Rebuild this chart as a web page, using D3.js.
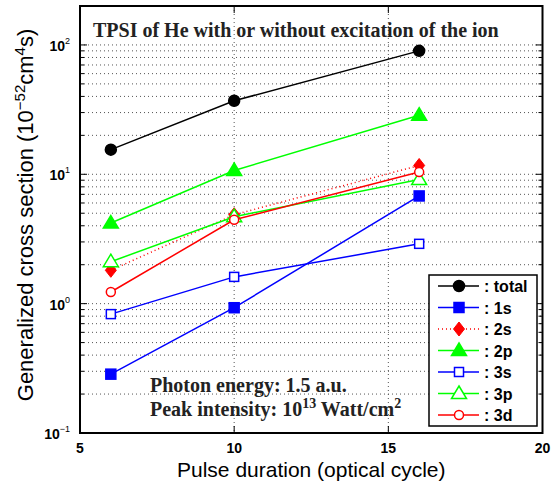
<!DOCTYPE html>
<html>
<head>
<meta charset="utf-8">
<script src="https://cdn.jsdelivr.net/npm/d3@7"></script>
<style>
  body { margin: 0; background: #fff; }
</style>
</head>
<body>
<div id="chart"></div>
<script>
// pulse duration (optical cycles)
let cycles = [6, 10, 16]

let total = [15.5, 37, 90]
let s1 = [0.285, 0.93, 6.8]
let s2 = [1.81, 4.87, 11.7]
let p2 = [4.2, 10.7, 28.6]
let s3 = [0.83, 1.61, 2.9]
let p3 = [2.11, 4.7, 9.1]
let d3s = [1.23, 4.45, 10.4]

let xTicks = [5, 10, 15, 20]
let yDecades = [-1, 0, 1, 2]

let series = [
  { name: ': total', values: total, color: '#000', marker: 'circle', fill: true, dash: null },
  { name: ': 1s', values: s1, color: '#0000ff', marker: 'square', fill: true, dash: null },
  { name: ': 2s', values: s2, color: '#ff0000', marker: 'diamond', fill: true, dash: '1,3' },
  { name: ': 2p', values: p2, color: '#00ff00', marker: 'triangle', fill: true, dash: null },
  { name: ': 3s', values: s3, color: '#0000ff', marker: 'square', fill: false, dash: null },
  { name: ': 3p', values: p3, color: '#00ff00', marker: 'triangle', fill: false, dash: null },
  { name: ': 3d', values: d3s, color: '#ff0000', marker: 'circle', fill: false, dash: null }
]

let margin = { top: 6, left: 80, right: 10.5, bottom: 52 }
let width = 553 - margin.left - margin.right
let height = 485 - margin.top - margin.bottom

let svg = d3
  .select('#chart')
  .append('svg')
  .attr('width', 553)
  .attr('height', 485)

let g = svg.append('g')
  .attr('transform', 'translate(' + margin.left + ',' + margin.top + ')')

let x = d3.scaleLinear().domain([5, 20]).range([0, width])
let y = d3.scaleLog().domain([0.1, 200]).range([height, 0])

// all minor+major y values
let yGrid = []
yDecades.forEach(function (e) {
  for (let k = 1; k <= 9; k++) {
    let v = k * Math.pow(10, e)
    if (v >= 0.1 && v <= 200) yGrid.push(v)
  }
})

// dotted grid
g.selectAll('.hgrid')
  .data(yGrid)
  .enter()
  .append('line')
  .attr('x1', 0)
  .attr('x2', width)
  .attr('y1', d => y(d))
  .attr('y2', d => y(d))
  .attr('stroke', '#555')
  .attr('stroke-width', 1)
  .attr('stroke-dasharray', '1,3')

g.selectAll('.vgrid')
  .data(xTicks.slice(1, -1))
  .enter()
  .append('line')
  .attr('x1', d => x(d))
  .attr('x2', d => x(d))
  .attr('y1', 0)
  .attr('y2', height)
  .attr('stroke', '#555')
  .attr('stroke-width', 1)
  .attr('stroke-dasharray', '1,3')

// tick marks inside, left/right and top/bottom
yGrid.forEach(function (v) {
  let major = Math.abs(Math.log10(v) - Math.round(Math.log10(v))) < 1e-9
  let len = major ? 7 : 4
  g.append('line').attr('x1', 0).attr('x2', len).attr('y1', y(v)).attr('y2', y(v)).attr('stroke', '#000')
  g.append('line').attr('x1', width - len).attr('x2', width).attr('y1', y(v)).attr('y2', y(v)).attr('stroke', '#000')
})
xTicks.slice(1, -1).forEach(function (v) {
  g.append('line').attr('x1', x(v)).attr('x2', x(v)).attr('y1', height).attr('y2', height - 7).attr('stroke', '#000')
  g.append('line').attr('x1', x(v)).attr('x2', x(v)).attr('y1', 0).attr('y2', 7).attr('stroke', '#000')
})

// tick labels
g.selectAll('.xlab')
  .data(xTicks)
  .enter()
  .append('text')
  .text(d => d)
  .attr('x', d => x(d))
  .attr('y', height + 20)
  .attr('text-anchor', 'middle')
  .attr('font-family', 'Liberation Sans, Arial, sans-serif')
  .attr('font-weight', 'bold')
  .attr('font-size', '14px')

let ylab = g.selectAll('.ylab')
  .data(yDecades)
  .enter()
  .append('text')
  .attr('x', -10)
  .attr('y', d => y(Math.pow(10, d)) + 6)
  .attr('text-anchor', 'end')
  .attr('font-family', 'Liberation Sans, Arial, sans-serif')
  .attr('font-weight', 'bold')
  .attr('font-size', '14px')
ylab.append('tspan').text('10')
ylab.append('tspan').text(d => d < 0 ? '\u22121' : d).attr('dy', -7).attr('font-size', '9px').attr('font-weight', 'normal')

// lines and markers
let line = d3.line()
  .x((d, i) => x(cycles[i]))
  .y(d => y(d))

function drawMarker(sel, s, cx, cy) {
  let fill = s.fill ? s.color : '#fff'
  if (s.marker == 'circle') {
    sel.append('circle').attr('cx', cx).attr('cy', cy).attr('r', s.fill ? 5.5 : 4.5)
      .attr('fill', fill).attr('stroke', s.color).attr('stroke-width', 1.5)
  } else if (s.marker == 'square') {
    let h = s.fill ? 5 : 4.5
    sel.append('rect').attr('x', cx - h).attr('y', cy - h).attr('width', 2 * h).attr('height', 2 * h)
      .attr('fill', fill).attr('stroke', s.color).attr('stroke-width', 1.5)
  } else if (s.marker == 'diamond') {
    sel.append('path').attr('d', 'M' + cx + ',' + (cy - 7) + 'L' + (cx + 5.5) + ',' + cy + 'L' + cx + ',' + (cy + 7) + 'L' + (cx - 5.5) + ',' + cy + 'Z')
      .attr('fill', fill).attr('stroke', s.color).attr('stroke-width', 1)
  } else {
    sel.append('path').attr('d', 'M' + cx + ',' + (cy - 7.5) + 'L' + (cx + 7.5) + ',' + (cy + 5) + 'L' + (cx - 7.5) + ',' + (cy + 5) + 'Z')
      .attr('fill', fill).attr('stroke', s.color).attr('stroke-width', 1.5)
  }
}

series.forEach(function (s) {
  g.append('path')
    .attr('d', line(s.values))
    .attr('fill', 'none')
    .attr('stroke', s.color)
    .attr('stroke-width', 1.5)
    .attr('stroke-dasharray', s.dash)
  s.values.forEach(function (v, i) {
    drawMarker(g, s, x(cycles[i]), y(v))
  })
})

// axes box
g.append('rect')
  .attr('x', 0).attr('y', 0).attr('width', width).attr('height', height)
  .attr('fill', 'none').attr('stroke', '#000').attr('stroke-width', 2)

// annotations
g.append('text')
  .text('TPSI of He with or without excitation of the ion')
  .attr('x', 13).attr('y', 31)
  .attr('font-family', 'Liberation Serif, Times New Roman, serif')
  .attr('font-weight', 'bold')
  .attr('font-size', '20px')
  .attr('fill', '#222')

g.append('text')
  .text('Photon energy: 1.5 a.u.')
  .attr('x', 70).attr('y', 386)
  .attr('font-family', 'Liberation Serif, Times New Roman, serif')
  .attr('font-weight', 'bold')
  .attr('font-size', '20px')
  .attr('fill', '#222')

let peak = g.append('text')
  .attr('x', 70).attr('y', 410)
  .attr('font-family', 'Liberation Serif, Times New Roman, serif')
  .attr('font-weight', 'bold')
  .attr('font-size', '20px')
  .attr('fill', '#222')
peak.append('tspan').text('Peak intensity: 10')
peak.append('tspan').text('13').attr('dy', -8).attr('font-size', '14px')
peak.append('tspan').text(' Watt/cm').attr('dy', 8)
peak.append('tspan').text('2').attr('dy', -8).attr('font-size', '14px')

// legend
let lg = g.append('g').attr('transform', 'translate(' + (429 - margin.left) + ',' + (275 - margin.top) + ')')
lg.append('rect')
  .attr('width', 108).attr('height', 151)
  .attr('fill', '#fff').attr('stroke', '#000').attr('stroke-width', 1.5)

series.forEach(function (s, i) {
  let ly = 11 + i * 21.5
  lg.append('line')
    .attr('x1', 9).attr('x2', 50).attr('y1', ly).attr('y2', ly)
    .attr('stroke', s.color).attr('stroke-width', 1.5)
    .attr('stroke-dasharray', s.dash)
  drawMarker(lg, s, 30, ly)
  lg.append('text')
    .text(s.name)
    .attr('x', 55).attr('y', ly + 6)
    .attr('font-family', 'Liberation Sans, Arial, sans-serif')
    .attr('font-weight', 'bold')
    .attr('font-size', '16px')
})

// axis titles
svg.append('text')
  .text('Pulse duration (optical cycle)')
  .attr('x', margin.left + width / 2)
  .attr('y', 477)
  .attr('text-anchor', 'middle')
  .attr('font-family', 'Liberation Sans, Arial, sans-serif')
  .attr('font-size', '21px')

let yt = svg.append('text')
  .attr('transform', 'translate(33,215) rotate(-90)')
  .attr('text-anchor', 'middle')
  .attr('font-family', 'Liberation Sans, Arial, sans-serif')
  .attr('font-size', '22px')
yt.append('tspan').text('Generalized cross section (10')
yt.append('tspan').text('\u221252').attr('dy', -8).attr('font-size', '15px')
yt.append('tspan').text('cm').attr('dy', 8)
yt.append('tspan').text('4').attr('dy', -8).attr('font-size', '15px')
yt.append('tspan').text('s)').attr('dy', 8)
</script>
</body>
</html>
